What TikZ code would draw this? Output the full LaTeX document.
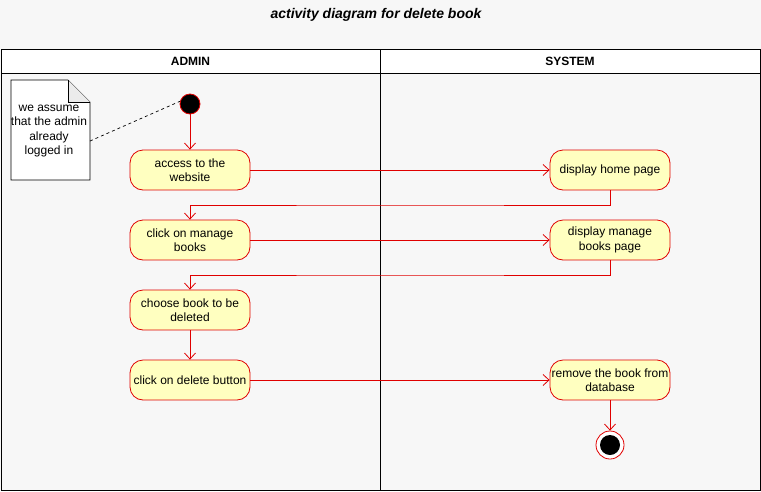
\documentclass[tikz,border=0pt]{standalone}
\usepackage{fontspec}
\setmainfont{Liberation Sans}
\usetikzlibrary{arrows.meta,shapes.geometric,calc}
\definecolor{bgc}{HTML}{F7F7F7}
\definecolor{actfill}{HTML}{FFFFC0}
\definecolor{actred}{HTML}{E00000}
\tikzset{
  act/.style={draw=actred, fill=actfill, rounded corners=13pt, minimum width=120pt, minimum height=40pt,
    align=center, inner sep=0pt, font=\fontsize{12}{14.5}\selectfont, line width=0.8pt},
  flow/.style={draw=actred, line width=0.8pt, -{Straight Barb[length=6pt,width=11pt]}},
  lanehead/.style={font=\fontsize{12}{14}\selectfont\bfseries},
}
\begin{document}
\begin{tikzpicture}[x=1pt,y=-1pt]
\useasboundingbox (0,0) rectangle (761,491);
\fill[bgc] (0,0) rectangle (761,491);
\node[font=\fontsize{14}{16}\selectfont\bfseries\itshape] (title) at (376,15) {activity diagram for delete book};
% swimlanes
\fill[white] (1,49) rectangle (760,73);
\draw[line width=0.8pt] (1,49) rectangle (760,490);
\draw[line width=0.8pt] (1,73) -- (760,73);
\draw[line width=0.8pt] (380,49) -- (380,490);
\node[lanehead] (hadmin) at (190.5,61) {ADMIN};
\node[lanehead] (hsys) at (570,61) {SYSTEM};
% note
\draw[fill=white, line width=0.7pt] (11,80) -- (68,80) -- (90,102) -- (90,180) -- (11,180) -- cycle;
\draw[fill=black!8, line width=0.7pt] (68,80) -- (68,102) -- (90,102);
\node[align=center, font=\fontsize{12}{14.5}\selectfont, inner sep=0pt] (note) at (49,131) {we assume\\that the admin\\already\\logged in};
\coordinate (noteR) at (90,141);
% initial
\node[circle, fill=black, draw=actred, line width=0.8pt, minimum size=20pt, inner sep=0pt] (init) at (190,104) {};
\draw[dashed, line width=0.7pt] (noteR) -- (init.165);
% actions
\node[act] (access) at (190,170) {access to the\\website};
\node[act] (home) at (610,170) {display home page};
\node[act] (manage) at (190,240) {click on manage\\books};
\node[act] (mpage) at (610,240) {display manage\\books page};
\node[act] (choose) at (190,310) {choose book to be\\deleted};
\node[act] (delete) at (190,380) {click on delete button};
\node[act] (remove) at (610,380) {remove the book from\\database};
% final
\node[circle, draw=actred, fill=white, line width=0.8pt, minimum size=28pt, inner sep=0pt] (final) at (610,445) {};
\node[circle, fill=black, minimum size=20pt, inner sep=0pt] (finalin) at (610,445) {};
% flows
\draw[flow] (init) -- (access);
\draw[flow] (access) -- (home);
\draw[flow] (home.south) |- (400,205) -| (manage.north);
\draw[flow] (manage) -- (mpage);
\draw[flow] (mpage.south) |- (400,275) -| (choose.north);
\draw[flow] (choose) -- (delete);
\draw[flow] (delete) -- (remove);
\draw[flow] (remove) -- (final);
\end{tikzpicture}
\end{document}
